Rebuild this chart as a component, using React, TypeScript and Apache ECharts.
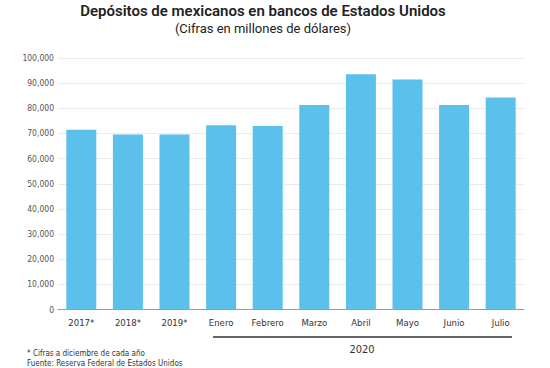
import React, { useEffect, useRef } from "react";
import * as echarts from "echarts";

const categories = ["2017*", "2018*", "2019*", "Enero", "Febrero", "Marzo", "Abril", "Mayo", "Junio", "Julio"];
const deposits = [71500, 69600, 69600, 73300, 73000, 81300, 93500, 91500, 81300, 84300];
const titleText = "Depósitos de mexicanos en bancos de Estados Unidos";
const subtitleText = "(Cifras en millones de dólares)";
const groupLabel = "2020";
const footnotes = ["* Cifras a diciembre de cada año", "Fuente: Reserva Federal de Estados Unidos"];

const NARROW = '"Liberation Sans Narrow", "DejaVu Sans Condensed", "Roboto", sans-serif';

export default function App() {
  const ref = useRef<HTMLDivElement>(null);
  useEffect(() => {
    if (!ref.current) return;
    const chart = echarts.init(ref.current, null, { renderer: "svg" });
    chart.setOption({
      animation: false,
      backgroundColor: "#ffffff",
      grid: { left: 58, right: 26, top: 58, bottom: 58.5, containLabel: false },
      xAxis: {
        type: "category",
        data: categories,
        axisTick: { show: false },
        axisLine: { show: true, lineStyle: { color: "#999", width: 1 } },
        axisLabel: { color: "#333", fontSize: 9.5, fontFamily: NARROW, margin: 8 },
      },
      yAxis: {
        type: "value",
        min: 0,
        max: 100000,
        interval: 10000,
        axisLine: { show: false },
        axisTick: { show: false },
        splitLine: { lineStyle: { color: "#ebebeb", width: 1 } },
        axisLabel: {
          color: "#555",
          fontSize: 8.5,
          fontFamily: NARROW,
          margin: 4,
          formatter: (v: number) => v.toLocaleString("en-US"),
        },
      },
      series: [
        {
          type: "bar",
          data: deposits,
          barWidth: 30,
          itemStyle: { color: "#5BC0EB" },
        },
      ],
      graphic: [
        {
          type: "text",
          x: 263,
          y: 11,
          style: {
            text: titleText,
            fill: "#222",
            fontSize: 15,
            fontWeight: 600,
            fontFamily: "Roboto",
            textAlign: "center",
            textVerticalAlign: "middle",
          },
        },
        {
          type: "text",
          x: 263,
          y: 28,
          style: {
            text: subtitleText,
            fill: "#222",
            fontSize: 13,
            fontFamily: "Roboto",
            textAlign: "center",
            textVerticalAlign: "middle",
          },
        },
        {
          type: "line",
          shape: { x1: 213, y1: 337, x2: 512, y2: 337 },
          style: { stroke: "#333", lineWidth: 1.5 },
        },
        {
          type: "text",
          x: 362,
          y: 349,
          style: {
            text: groupLabel,
            fill: "#333",
            fontSize: 11,
            fontFamily: NARROW,
            textAlign: "center",
            textVerticalAlign: "middle",
          },
        },
        {
          type: "text",
          x: 27,
          y: 353,
          style: {
            text: footnotes[0],
            fill: "#333",
            fontSize: 8,
            fontFamily: NARROW,
            textAlign: "left",
            textVerticalAlign: "middle",
          },
        },
        {
          type: "text",
          x: 27,
          y: 363,
          style: {
            text: footnotes[1],
            fill: "#333",
            fontSize: 8,
            fontFamily: NARROW,
            textAlign: "left",
            textVerticalAlign: "middle",
          },
        },
      ],
    });
    return () => chart.dispose();
  }, []);
  return <div ref={ref} style={{ position: "fixed", left: 0, top: 0, width: 550, height: 368 }} />;
}
